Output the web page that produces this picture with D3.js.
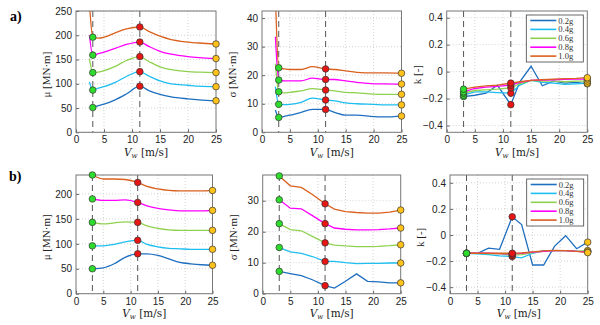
<!DOCTYPE html>
<html>
<head>
<meta charset="utf-8">
<script src="https://cdn.jsdelivr.net/npm/d3@7"></script>
<style>
  body { margin: 0; background: #fff; }
  svg { display: block; }
</style>
</head>
<body>
<script>
// series names and colours
var seriesNames = ["0.2g", "0.4g", "0.6g", "0.8g", "1.0g"];
var seriesColors = ["#1f6fc0", "#1ebef0", "#8fd14f", "#ff00ff", "#d9601e"];

// wind speeds (top row a, bottom row b)
var xA = [2.4, 3, 4, 5, 7, 9, 11.4, 13, 15, 17, 20, 22, 25];
var xAk = [3, 5, 7, 9, 11.4, 13, 15, 17, 19, 21, 23, 25];
var xB = [3, 5, 7, 9, 11.3, 13, 15, 17, 19, 21, 23, 25];
var xTicks = [0, 5, 10, 15, 20, 25];

// a) mean mu [MN.m]
var muA02 = [null, 51, 55, 58, 67, 79, 95, 86, 78, 73, 69, 67, 65];
var muA04 = [104, 87, 91, 94, 103, 115, 125, 116, 106, 100, 97, 95, 94];
var muA06 = [152, 123, 124, 127, 136, 148, 156, 146, 135, 129, 125, 124, 123];
var muA08 = [200, 159, 162, 165, 173, 181, 186, 177, 167, 161, 156, 154, 152];
var muA10 = [265, 196, 194, 196, 205, 213, 217, 208, 198, 191, 186, 184, 182];

// a) std sigma [MN.m]
var sdA02 = [7.8, 5.2, 5.6, 6, 7, 8, 8, 7, 6, 6, 5.5, 5.4, 5.7];
var sdA04 = [16, 9.8, 9.7, 9.8, 10.5, 12, 11.3, 11, 10.3, 10, 9.8, 9.6, 9.6];
var sdA06 = [24, 14.2, 13.8, 14, 14.5, 15.3, 14.8, 14.5, 14, 13.8, 13.4, 13.3, 13.3];
var sdA08 = [33.5, 18.3, 18, 18, 18, 19, 18.5, 18.5, 18, 17.5, 17, 17, 16.9];
var sdA10 = [48, 22.6, 22.2, 22, 22, 23, 22.2, 22, 21.5, 21, 20.8, 20.8, 20.7];

// a) k [-]
var kA02 = [-0.185, -0.175, -0.16, -0.1, -0.245, -0.075, 0.04, -0.105, -0.07, -0.085, -0.08, -0.09];
var kA04 = [-0.175, -0.15, -0.15, -0.155, -0.16, -0.1, -0.065, -0.08, -0.085, -0.095, -0.09, -0.085];
var kA06 = [-0.16, -0.14, -0.135, -0.13, -0.12, -0.09, -0.065, -0.07, -0.07, -0.075, -0.07, -0.07];
var kA08 = [-0.15, -0.125, -0.115, -0.11, -0.1, -0.08, -0.065, -0.062, -0.06, -0.058, -0.056, -0.055];
var kA10 = [-0.13, -0.115, -0.105, -0.1, -0.085, -0.075, -0.065, -0.06, -0.055, -0.052, -0.05, -0.045];

// b) mean mu [MN.m]
var muB02 = [50, 52, 60, 73, 80, 80, 77, 70, 63, 60, 58, 57];
var muB04 = [96, 96, 99, 104, 107, 99, 94, 91, 90, 89, 89, 89];
var muB06 = [143, 140, 142, 144, 143, 136, 131, 128, 127, 127, 127, 127];
var muB08 = [190, 187, 187, 188, 183, 176, 171, 168, 166, 166, 166, 167];
var muB10 = [238, 230, 230, 229, 223, 215, 210, 207, 206, 206, 206, 207];

// b) std sigma [MN.m]
var sdB02 = [7.2, 6.5, 5.8, 4.5, 2.6, 1.8, 4.0, 6.4, 4.0, 3.8, 3.5, 3.5];
var sdB04 = [14.9, 13.5, 13, 12, 10.4, 10.4, 10, 9.7, 9.8, 9.8, 9.9, 9.9];
var sdB06 = [22.6, 20.7, 20.3, 18.5, 16.4, 15.7, 15.4, 15.2, 15.2, 15.3, 15.5, 15.8];
var sdB08 = [30.3, 27.6, 27.4, 25.2, 22.6, 21.2, 20.8, 20.6, 20.6, 20.7, 20.9, 21.2];
var sdB10 = [38, 34.8, 34.3, 32, 29, 27.3, 26.5, 26.2, 26, 26, 26.3, 27];

// b) k [-]
var kB02 = [-0.14, -0.14, -0.1, -0.11, 0.14, 0.08, -0.23, -0.23, -0.085, -0.005, -0.105, -0.055];
var kB04 = [-0.14, -0.145, -0.15, -0.16, -0.165, -0.175, -0.14, -0.12, -0.12, -0.12, -0.125, -0.125];
var kB06 = [-0.14, -0.14, -0.142, -0.145, -0.155, -0.15, -0.135, -0.125, -0.12, -0.12, -0.125, -0.12];
var kB08 = [-0.14, -0.14, -0.14, -0.142, -0.145, -0.14, -0.132, -0.125, -0.12, -0.12, -0.125, -0.13];
var kB10 = [-0.14, -0.14, -0.14, -0.14, -0.14, -0.138, -0.13, -0.122, -0.118, -0.12, -0.125, -0.135];

// marker wind speeds: cut-in, rated, cut-out
var cutIn = 3, ratedA = 11.4, ratedB = 11.3, cutOut = 25;

var svg = d3.select("body").append("svg")
    .attr("width", 600)
    .attr("height", 325);

var panels = [
  {box: [76, 216, 11, 132.3], y: [0, 250], yt: [0, 50, 100, 150, 200, 250], x: xA,
   series: [muA02, muA04, muA06, muA08, muA10], label: "μ [MN·m]", rated: ratedA, curve: d3.curveMonotoneX},
  {box: [262, 401.5, 11, 132.3], y: [0, 42.5], yt: [0, 10, 20, 30, 40], x: xA,
   series: [sdA02, sdA04, sdA06, sdA08, sdA10], label: "σ [MN·m]", rated: ratedA, curve: d3.curveMonotoneX},
  {box: [446.7, 587.3, 11, 132.3], y: [-0.45, 0.45], yt: [-0.4, -0.2, 0, 0.2, 0.4], x: xAk,
   series: [kA02, kA04, kA06, kA08, kA10], label: "k [-]", rated: ratedA, curve: d3.curveLinear, legend: true},
  {box: [76, 212.5, 175, 293.7], y: [0, 238], yt: [0, 50, 100, 150, 200], x: xB,
   series: [muB02, muB04, muB06, muB08, muB10], label: "μ [MN·m]", rated: ratedB, curve: d3.curveMonotoneX},
  {box: [262.7, 400.7, 175, 293.7], y: [0, 38.3], yt: [0, 10, 20, 30], x: xB,
   series: [sdB02, sdB04, sdB06, sdB08, sdB10], label: "σ [MN·m]", rated: ratedB, curve: d3.curveLinear},
  {box: [450, 587.7, 175, 293.7], y: [-0.45, 0.46], yt: [-0.4, -0.2, 0, 0.2, 0.4], x: xB,
   series: [kB02, kB04, kB06, kB08, kB10], label: "k [-]", rated: ratedB, curve: d3.curveLinear, legend: true}
];

var fmtK = function(d) {
  if (Math.abs(d) < 1e-9) return "0";
  return (d < 0 ? "\u2212" : "") + Math.abs(d).toFixed(1);
};

panels.forEach(function(p, pi) {
  var x = d3.scaleLinear().domain([0, 25]).range([p.box[0], p.box[1]]);
  var y = d3.scaleLinear().domain(p.y).range([p.box[3], p.box[2]]);
  var g = svg.append("g");
  var clipId = "clip" + pi;

  g.append("clipPath").attr("id", clipId)
    .append("rect")
      .attr("x", p.box[0]).attr("y", p.box[2])
      .attr("width", p.box[1] - p.box[0]).attr("height", p.box[3] - p.box[2]);

  // grid
  g.selectAll(".gx").data(xTicks.slice(1, -1)).enter().append("line")
      .attr("x1", function(d) { return x(d); }).attr("x2", function(d) { return x(d); })
      .attr("y1", p.box[2]).attr("y2", p.box[3])
      .attr("stroke", "#c8c8c8").attr("stroke-width", 0.8).attr("stroke-dasharray", "1,2");
  g.selectAll(".gy").data(p.yt).enter().append("line")
      .attr("x1", p.box[0]).attr("x2", p.box[1])
      .attr("y1", function(d) { return y(d); }).attr("y2", function(d) { return y(d); })
      .attr("stroke", "#c8c8c8").attr("stroke-width", 0.8).attr("stroke-dasharray", "1,2");

  // axes
  var xAxis = g.append("g")
      .attr("transform", "translate(0," + p.box[3] + ")")
      .call(d3.axisBottom(x).tickValues(xTicks).tickSize(-3).tickPadding(4));
  var yAxis = g.append("g")
      .attr("transform", "translate(" + p.box[0] + ",0)")
      .call(d3.axisLeft(y).tickValues(p.yt).tickSize(-3).tickPadding(4)
        .tickFormat(p.y[0] < 0 ? fmtK : d3.format("d")));
  [xAxis, yAxis].forEach(function(a) {
    a.select(".domain").remove();
    a.selectAll("line").attr("stroke", "#666");
    a.selectAll("text").attr("fill", "#222")
      .style("font-family", "Liberation Sans, Arial, sans-serif").style("font-size", "10px");
  });

  // dashed lines at cut-in and rated
  g.selectAll(".vl").data([cutIn, p.rated]).enter().append("line")
      .attr("x1", function(d) { return x(d); }).attr("x2", function(d) { return x(d); })
      .attr("y1", p.box[2]).attr("y2", p.box[3])
      .attr("stroke", "#555").attr("stroke-width", 1).attr("stroke-dasharray", "6,4");

  // curves
  var line = d3.line()
      .defined(function(d) { return d[1] != null; })
      .x(function(d) { return x(d[0]); })
      .y(function(d) { return y(d[1]); })
      .curve(p.curve);

  var lines = g.append("g").attr("clip-path", "url(#" + clipId + ")");
  p.series.forEach(function(s, i) {
    lines.append("path")
        .datum(p.x.map(function(v, j) { return [v, s[j]]; }))
        .attr("d", line)
        .attr("fill", "none")
        .attr("stroke", seriesColors[i])
        .attr("stroke-width", 1.3);
  });

  // frame
  g.append("rect")
      .attr("x", p.box[0]).attr("y", p.box[2])
      .attr("width", p.box[1] - p.box[0]).attr("height", p.box[3] - p.box[2])
      .attr("fill", "none").attr("stroke", "#777").attr("stroke-width", 1);

  // markers
  var marks = [[cutIn, "#2ddc2d"], [p.rated, "#e81515"], [cutOut, "#ffc21a"]];
  p.series.forEach(function(s) {
    marks.forEach(function(m) {
      var j = p.x.indexOf(m[0]);
      g.append("circle")
          .attr("cx", x(m[0])).attr("cy", y(s[j]))
          .attr("r", 3.3)
          .attr("fill", m[1]).attr("stroke", "#333").attr("stroke-width", 0.7);
    });
  });

  // axis labels
  var cx = (p.box[0] + p.box[1]) / 2, cy = (p.box[2] + p.box[3]) / 2;
  var xl = g.append("text")
      .attr("x", cx).attr("y", p.box[3] + 23.5)
      .attr("text-anchor", "middle")
      .style("font-family", "DejaVu Serif, Liberation Serif, serif").style("font-size", "10.5px")
      .attr("fill", "#222");
  xl.append("tspan").style("font-style", "italic").text("V");
  xl.append("tspan").style("font-style", "italic").style("font-size", "7px").attr("dy", 2).text("w");
  xl.append("tspan").attr("dy", -2).text(" [m/s]");

  g.append("text")
      .attr("transform", "translate(" + (p.box[0] - 26) + "," + (cy + 3) + ") rotate(-90)")
      .attr("text-anchor", "middle")
      .style("font-family", "Liberation Serif, DejaVu Serif, serif").style("font-size", "11px")
      .attr("fill", "#222")
      .text(p.label);

  // legend
  if (p.legend) {
    var lx = p.box[1] - 61, ly = p.box[2] + 4;
    var lg = g.append("g").attr("transform", "translate(" + lx + "," + ly + ")");
    lg.append("rect").attr("width", 57).attr("height", 47)
        .attr("fill", "#fff").attr("stroke", "#444").attr("stroke-width", 0.8);
    seriesNames.forEach(function(n, i) {
      var yy = 5.5 + i * 8.9;
      lg.append("line").attr("x1", 4).attr("x2", 30).attr("y1", yy).attr("y2", yy)
          .attr("stroke", seriesColors[i]).attr("stroke-width", 1.6);
      lg.append("text").attr("x", 32).attr("y", yy + 3)
          .style("font-family", "Liberation Serif, DejaVu Serif, serif").style("font-size", "8.5px")
          .attr("fill", "#333").text(n);
    });
  }
});

// row labels
svg.append("text").attr("x", 10).attr("y", 21)
    .style("font-family", "'Liberation Serif', serif").style("font-weight", "bold").style("font-size", "14px")
    .text("a)");
svg.append("text").attr("x", 9).attr("y", 181)
    .style("font-family", "'Liberation Serif', serif").style("font-weight", "bold").style("font-size", "14px")
    .text("b)");
</script>
</body>
</html>
